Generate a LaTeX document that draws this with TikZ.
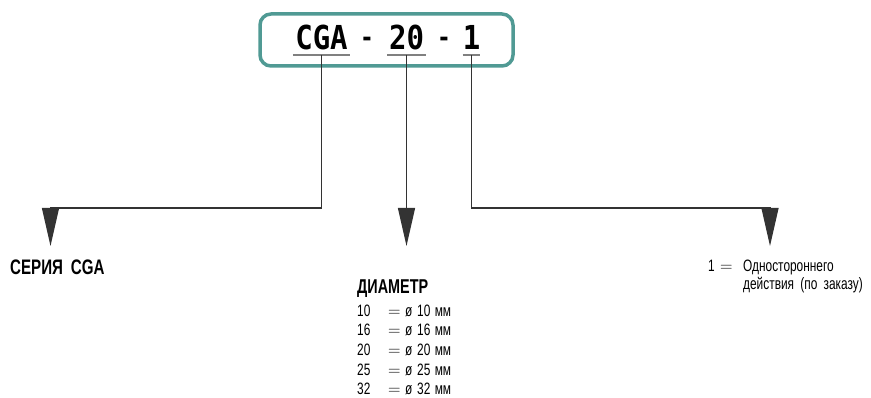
\documentclass[tikz,border=0pt]{standalone}
\usepackage{fontspec}
\setmainfont{Liberation Sans}[FakeStretch=0.72,WordSpace=1.9]
\newfontfamily\codefont{DejaVu Sans Mono}[FakeStretch=0.88]
\usepackage{tikz}
\usetikzlibrary{positioning}
\usetikzlibrary{arrows.meta}
\definecolor{boxteal}{RGB}{80,154,148}

\begin{document}
\begin{tikzpicture}[x=1pt,y=-1pt,
  code/.style={font=\codefont\bfseries\fontsize{33}{33}\selectfont,inner xsep=0pt,inner ysep=5pt,text depth=0pt,anchor=south},
  uline/.style={draw=black!50,line width=1.5pt},
  conn/.style={draw=black!80,line width=1.2pt},
  tip/.style={-{Triangle[width=17pt,length=38pt]}},
  head/.style={font=\bfseries\fontsize{21}{21}\selectfont,inner sep=0pt,anchor=base west},
  row/.style={font=\fontsize{16.5}{16.5}\selectfont,inner sep=0pt,anchor=base west},
  codebox/.style={draw=boxteal,line width=3.5pt,rounded corners=11pt,minimum width=253pt,minimum height=52pt}]
\useasboundingbox (0,0) rectangle (871,398);

\node[codebox] (frame) at (386.5,40) {};
\node[code,minimum width=57pt] (cga) at (321.5,55) {CGA};
\node[code,minimum width=38pt] (dia) at (406.5,55) {20};
\node[code,minimum width=17pt] (act) at (471.5,55) {1};
\node[code,font=\codefont\bfseries\fontsize{26}{26}\selectfont,inner ysep=8pt] (dashA) at (367,55) {-};
\node[code,font=\codefont\bfseries\fontsize{26}{26}\selectfont,inner ysep=8pt] (dashB) at (444,55) {-};
\draw[uline] (cga.south west) -- (cga.south east);
\draw[uline] (dia.south west) -- (dia.south east);
\draw[uline] (act.south west) -- (act.south east);

\coordinate (serKnee) at (50.5,208);
\coordinate (serTip) at (50.5,246);
\coordinate (diaTip) at (406.5,246);
\coordinate (actKnee) at (770,208);
\coordinate (actTip) at (770,246);
\draw[conn,tip] (cga.south) |- (serKnee) -- (serTip);
\draw[conn,tip] (dia.south) -- (diaTip);
\draw[conn,tip] (act.south) |- (actKnee) -- (actTip);

\node[head] (series) at (10,275) {СЕРИЯ CGA};
\node[head,font=\bfseries\fontsize{20}{20}\selectfont] (diameter) at (357,293.5) {ДИАМЕТР};
\foreach \d [count=\i] in {10,16,20,25,32}{
  \node[row] (num\d) at (357,297+19.5*\i) {\d};
  \node[row] (eq\d) at (388,297+19.5*\i) {$=$};
  \node[row] (phi\d) at (405,297+19.5*\i) {ø};
  \node[row] (val\d) at (417,297+19.5*\i) {\d};
  \node[row,right=4pt of val\d.base east,anchor=base west] (mm\d) {мм};
}

\node[row] (actNum) at (708,271.5) {1};
\node[row] (actEq) at (720,271.5) {$=$};
\node[row] (actLineA) at (743,271.5) {Одностороннего};
\node[row] (actLineB) at (743,290) {действия (по заказу)};
\end{tikzpicture}
\end{document}
